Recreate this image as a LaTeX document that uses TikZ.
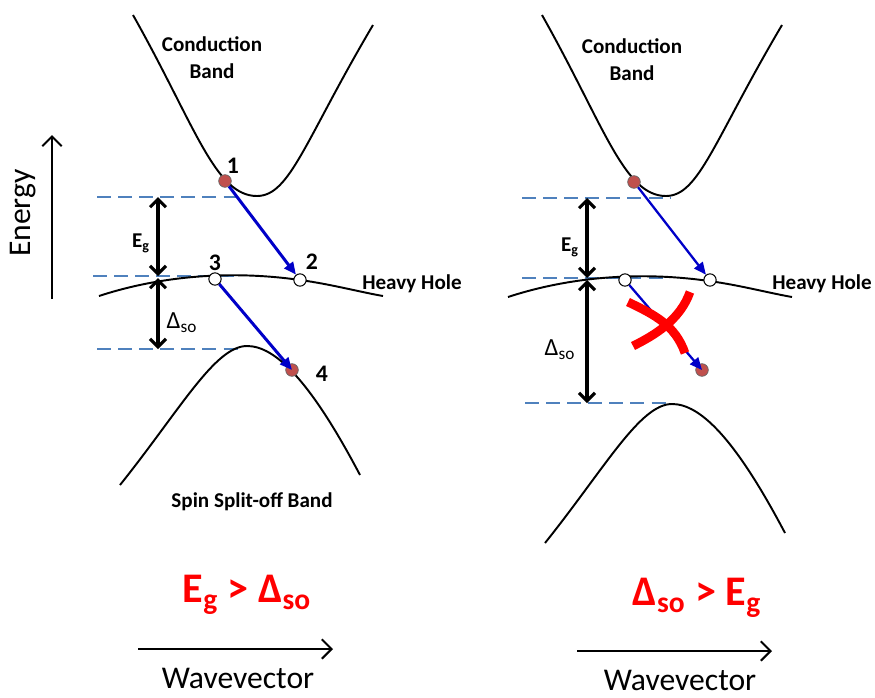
\documentclass[tikz,border=0pt]{standalone}
\usepackage{fontspec}
\setmainfont{Carlito}
\usetikzlibrary{arrows.meta}

\definecolor{levelblue}{RGB}{79,129,189}
\definecolor{dotred}{RGB}{192,80,77}
\definecolor{jumpblue}{RGB}{0,0,200}

\tikzset{
    band/.style={line width=1.1pt},
    level/.style={levelblue, line width=1.3pt, dash pattern=on 8pt off 4pt},
    gap/.style={line width=1.8pt, {Straight Barb[length=4.5pt,width=9pt]}-{Straight Barb[length=4.5pt,width=9pt]}},
    jump/.style={jumpblue, line width=1.7pt, -{Triangle[length=7pt,width=6pt]}},
    electron/.style={circle, fill=dotred, draw=black!60, line width=0.4pt, minimum size=7.2pt, inner sep=0pt},
    hole/.style={circle, fill=white, draw=black, line width=0.6pt, minimum size=7pt, inner sep=0pt},
    lbl/.style={font=\bfseries\fontsize{12}{15.3}\selectfont, align=center},
    dso/.style={font=\fontsize{14}{16}\selectfont},
    num/.style={font=\bfseries\fontsize{13.5}{15}\selectfont},
    axislbl/.style={font=\fontsize{18}{20}\selectfont},
    rule/.style={red, font=\bfseries\fontsize{24}{26}\selectfont},
    axis/.style={line width=1.2pt, -{Straight Barb[length=5.5pt,width=11pt]}},
    cross/.style={red, line width=5pt}
}

\begin{document}
\begin{tikzpicture}[x=0.02cm, y=-0.02cm]
    \useasboundingbox (0,0) rectangle (875,697);

    % energy axis
    \coordinate (e0) at (52,299);
    \coordinate (e1) at (52,135);
    \draw[axis] (e0) -- (e1);
    \node[axislbl, rotate=90] (energy) at (23,213) {Energy};

    % ---------- left panel: Eg > Dso ----------
    \draw[level] (97,197) -- (242,197);
    \draw[level] (93,276) -- (237,276);
    \draw[level] (97,349) -- (242,349);

    \draw[band] (133,15) .. controls (195,125) and (215,196) .. (257,196)
                         .. controls (290,196) and (305,140) .. (373,25);
    \draw[band] (99,296) .. controls (160,276) and (230,270) .. (300,280)
                         .. controls (330,284) and (360,292) .. (383,296);
    \draw[band] (120,485) .. controls (180,410) and (215,346) .. (247,346)
                          .. controls (275,346) and (310,380) .. (360,475);

    \coordinate (gtopL) at (158,197);
    \coordinate (gbotL) at (158,276);
    \coordinate (stopL) at (158,278);
    \coordinate (sbotL) at (158,349);
    \draw[gap] (gtopL) -- (gbotL);
    \draw[gap] (stopL) -- (sbotL);
    \node[lbl] (egL) at (141,243) {E\textsubscript{g}};
    \node[dso] (dsoL) at (182,323) {Δ\textsubscript{so}};

    \node[lbl] (cbL) at (212,58) {Conduction\\Band};
    \node[lbl] (hhL) at (412,284) {Heavy Hole};
    \node[lbl] (soL) at (252,502) {Spin Split-off Band};

    \node[electron] (p1) at (225,181) {};
    \node[hole] (p2) at (300,280) {};
    \node[hole] (p3) at (215,279) {};
    \node[electron] (p4) at (292,370) {};
    \node[num] (n1) at (233,166) {1};
    \node[num] (n2) at (312,262) {2};
    \node[num] (n3) at (215,263) {3};
    \node[num] (n4) at (322,374) {4};

    \draw[jump] (p1) -- (p2);
    \draw[jump] (p3) -- (p4.center);

    \node[rule] (ruleL) at (247,595) {E\textsubscript{g} > Δ\textsubscript{so}};
    \coordinate (k0L) at (138,649);
    \coordinate (k1L) at (333,649);
    \draw[axis] (k0L) -- (k1L);
    \node[axislbl] (wvL) at (238,678) {Wavevector};

    % ---------- right panel: Dso > Eg ----------
    \draw[level] (522,198) -- (670,198);
    \draw[level] (522,278) -- (667,278);
    \draw[level] (525,403) -- (670,403);

    \begin{scope}[xshift=409*0.02cm]
    \draw[band] (133,15) .. controls (195,125) and (215,196) .. (257,196)
                         .. controls (290,196) and (305,140) .. (373,25);
    \draw[band] (99,297) .. controls (160,277) and (230,271) .. (300,281)
                         .. controls (330,285) and (360,293) .. (383,297);
    \end{scope}
    \draw[band] (545,543) .. controls (605,468) and (640,404) .. (672,404)
                          .. controls (700,404) and (735,438) .. (785,533);

    \coordinate (gtopR) at (587,198);
    \coordinate (gbotR) at (587,278);
    \coordinate (stopR) at (587,280);
    \coordinate (sbotR) at (587,403);
    \draw[gap] (gtopR) -- (gbotR);
    \draw[gap] (stopR) -- (sbotR);
    \node[lbl] (egR) at (570,247) {E\textsubscript{g}};
    \node[dso] (dsoR) at (560,350) {Δ\textsubscript{so}};

    \node[lbl] (cbR) at (632,60) {Conduction\\Band};
    \node[lbl] (hhR) at (822,284) {Heavy Hole};

    \node[electron] (q1) at (634,182) {};
    \node[hole] (q2) at (710,280) {};
    \node[hole] (q3) at (625,280) {};
    \node[electron] (q4) at (702,370) {};

    \draw[jump, line width=1.3pt] (q1) -- (q2);
    \draw[jump, line width=1.3pt] (q3) -- (q4.center);

    % forbidden transition
    \draw[cross] (628,302) .. controls (655,315) and (675,325) .. (685,353);
    \draw[cross] (633,346) .. controls (655,335) and (680,320) .. (690,292);

    \node[rule] (ruleR) at (697,598) {Δ\textsubscript{so} > E\textsubscript{g}};
    \coordinate (k0R) at (577,651);
    \coordinate (k1R) at (772,651);
    \draw[axis] (k0R) -- (k1R);
    \node[axislbl] (wvR) at (680,680) {Wavevector};
\end{tikzpicture}
\end{document}
